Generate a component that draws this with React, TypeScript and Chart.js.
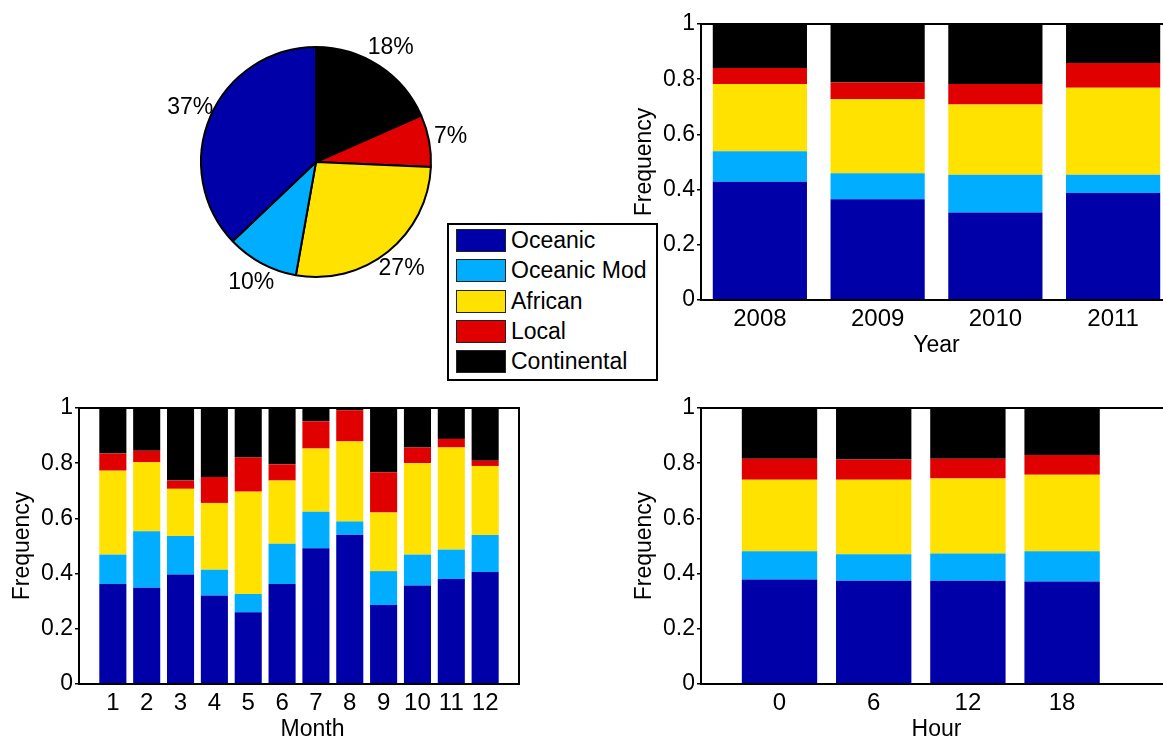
import React, { useEffect, useRef } from "react";
import { Chart, registerables } from "chart.js";
Chart.register(...registerables);

const FONT = "'Liberation Sans', Arial, Helvetica, sans-serif";
Chart.defaults.font.family = FONT;
Chart.defaults.font.size = 23;
Chart.defaults.color = "#000";

const sourceNames = ["Oceanic", "Oceanic Mod", "African", "Local", "Continental"];
const sourceColors = ["#0000A8", "#00ADFF", "#FFE200", "#E00000", "#000000"];

const pieShares = [37.1, 10.1, 27.1, 7.3, 18.4];

const years = ["2008", "2009", "2010", "2011"];
const yearOceanic = [0.428, 0.365, 0.317, 0.388];
const yearOceanicMod = [0.111, 0.094, 0.137, 0.066];
const yearAfrican = [0.244, 0.268, 0.254, 0.315];
const yearLocal = [0.058, 0.061, 0.075, 0.09];
const yearContinental = [0.159, 0.212, 0.217, 0.141];

const months = [1, 2, 3, 4, 5, 6, 7, 8, 9, 10, 11, 12];
const monthOceanic = [0.362, 0.349, 0.397, 0.321, 0.26, 0.362, 0.492, 0.541, 0.286, 0.357, 0.38, 0.406];
const monthOceanicMod = [0.107, 0.204, 0.139, 0.093, 0.066, 0.146, 0.132, 0.048, 0.123, 0.112, 0.107, 0.134];
const monthAfrican = [0.304, 0.25, 0.171, 0.242, 0.371, 0.229, 0.229, 0.29, 0.212, 0.331, 0.37, 0.25];
const monthLocal = [0.062, 0.042, 0.03, 0.094, 0.124, 0.059, 0.099, 0.113, 0.146, 0.057, 0.031, 0.019];
const monthContinental = [0.165, 0.155, 0.263, 0.25, 0.179, 0.204, 0.048, 0.008, 0.233, 0.143, 0.112, 0.191];

const hours = [0, 6, 12, 18];
const hourOceanic = [0.379, 0.374, 0.374, 0.371];
const hourOceanicMod = [0.102, 0.096, 0.099, 0.11];
const hourAfrican = [0.259, 0.27, 0.272, 0.277];
const hourLocal = [0.076, 0.073, 0.071, 0.072];
const hourContinental = [0.184, 0.187, 0.184, 0.17];

const yTicks = [0, 0.2, 0.4, 0.6, 0.8, 1];

const boxPlugin = {
  id: "plotBox",
  afterDatasetsDraw(chart: any) {
    const { ctx, chartArea } = chart;
    const { left, top, right, bottom } = chartArea;
    ctx.save();
    ctx.strokeStyle = "#000";
    ctx.lineWidth = 2;
    ctx.strokeRect(left, top, right - left, bottom - top);
    ctx.restore();
  },
};

const xTitlePlugin = {
  id: "xTitle",
  afterDraw(chart: any, _args: any, opts: any) {
    const { ctx, chartArea } = chart;
    ctx.save();
    ctx.font = `23px ${FONT}`;
    ctx.fillStyle = "#000";
    ctx.textAlign = "center";
    ctx.textBaseline = "alphabetic";
    ctx.fillText(opts.text, (chartArea.left + chartArea.right) / 2 + (opts.dx || 0), chartArea.bottom + opts.dy);
    ctx.restore();
  },
};

const pieLabelPlugin = {
  id: "pieLabels",
  afterDatasetsDraw(chart: any) {
    const { ctx } = chart;
    const meta = chart.getDatasetMeta(0);
    const values: number[] = chart.data.datasets[0].data;
    ctx.save();
    ctx.font = `23px ${FONT}`;
    ctx.fillStyle = "#000";
    ctx.textAlign = "center";
    ctx.textBaseline = "middle";
    meta.data.forEach((arc: any, i: number) => {
      const mid = (arc.startAngle + arc.endAngle) / 2;
      const r = arc.outerRadius * 1.19;
      ctx.fillText(Math.round(values[i]) + "%", arc.x + Math.cos(mid) * r, arc.y + Math.sin(mid) * r);
    });
    ctx.restore();
  },
};

function useChart(ref: React.RefObject<HTMLCanvasElement | null>, makeConfig: () => any) {
  useEffect(() => {
    if (!ref.current) return;
    const chart = new Chart(ref.current, makeConfig());
    return () => chart.destroy();
  }, []);
}

function PieChart() {
  const ref = useRef<HTMLCanvasElement>(null);
  useChart(ref, () => {
    // drawn clockwise from the top: reverse so that Oceanic runs counter-clockwise from the top
    const order = [4, 3, 2, 1, 0];
    return {
      type: "pie",
      data: {
        labels: order.map((i) => sourceNames[i]),
        datasets: [
          {
            data: order.map((i) => pieShares[i]),
            backgroundColor: order.map((i) => sourceColors[i]),
            borderColor: "#000",
            borderWidth: 2,
          },
        ],
      },
      options: {
        responsive: false,
        animation: false,
        layout: { padding: 64 },
        plugins: { legend: { display: false }, tooltip: { enabled: false } },
      },
      plugins: [pieLabelPlugin],
    };
  });
  return (
    <canvas
      ref={ref}
      width={360}
      height={360}
      style={{ position: "absolute", left: 136, top: -18, width: 360, height: 360 }}
    />
  );
}

function Legend() {
  return (
    <div
      style={{
        position: "absolute",
        left: 447,
        top: 223,
        width: 211,
        height: 158,
        boxSizing: "border-box",
        border: "2px solid #000",
        background: "#fff",
        fontFamily: FONT,
        fontSize: 23,
        color: "#000",
      }}
    >
      {sourceNames.map((name, i) => (
        <div
          key={name}
          style={{ position: "absolute", left: 7, top: 4 + i * 30.3, height: 23, display: "flex", alignItems: "center" }}
        >
          <div
            style={{
              width: 50,
              height: 23,
              flex: "0 0 auto",
              boxSizing: "border-box",
              background: sourceColors[i],
              border: "1.5px solid #222",
            }}
          />
          <span style={{ marginLeft: 5, lineHeight: "23px", whiteSpace: "nowrap" }}>{name}</span>
        </div>
      ))}
    </div>
  );
}

function yScale() {
  return {
    stacked: true,
    min: 0,
    max: 1,
    afterBuildTicks: (scale: any) => {
      scale.ticks = yTicks.map((v) => ({ value: v }));
    },
    afterFit: (scale: any) => {
      scale.width = 79;
    },
    grid: { drawOnChartArea: false, drawTicks: true, tickLength: 4, color: "#000", lineWidth: 1.5 },
    border: { display: false },
    ticks: {
      padding: 2,
      color: "#000",
      font: { size: 23, family: FONT },
      callback: (v: any) => String(Math.round(Number(v) * 10) / 10),
    },
    title: { display: true, text: "Frequency", padding: { top: 9, bottom: 0 }, font: { size: 23, family: FONT }, color: "#000" },
  };
}

function makeDatasets(series: number[][], xs: number[] | null) {
  return series.map((vals, i) => ({
    label: sourceNames[i],
    data: xs ? vals.map((v, j) => ({ x: xs[j], y: v })) : vals,
    backgroundColor: sourceColors[i],
    borderWidth: 0,
    barPercentage: 0.8,
    categoryPercentage: 1,
  }));
}

function baseOptions(xScale: any, title: string, dx: number) {
  return {
    responsive: false,
    animation: false,
    layout: { padding: { top: 24, right: 4, left: 0, bottom: 0 } },
    plugins: {
      legend: { display: false },
      tooltip: { enabled: false },
      xTitle: { text: title, dx, dy: 52 },
    },
    scales: { x: xScale, y: yScale() },
  };
}

const xTickFont = { size: 24, family: FONT };

function YearChart() {
  const ref = useRef<HTMLCanvasElement>(null);
  useChart(ref, () => ({
    type: "bar",
    data: {
      labels: years,
      datasets: makeDatasets([yearOceanic, yearOceanicMod, yearAfrican, yearLocal, yearContinental], null),
    },
    options: baseOptions(
      {
        type: "category",
        stacked: true,
        offset: true,
        afterFit: (scale: any) => {
          scale.height = 58;
        },
        grid: { display: false, drawTicks: false },
        border: { display: false },
        ticks: { padding: 5, color: "#000", maxRotation: 0, font: xTickFont },
        title: { display: false },
      },
      "Year",
      0
    ),
    plugins: [boxPlugin, xTitlePlugin],
  }));
  return (
    <canvas ref={ref} width={554} height={358} style={{ position: "absolute", left: 622, top: 0, width: 554, height: 358 }} />
  );
}

function linearX(xs: number[], min: number, max: number) {
  return {
    type: "linear",
    stacked: true,
    min,
    max,
    offset: false,
    afterBuildTicks: (scale: any) => {
      scale.ticks = xs.map((v) => ({ value: v }));
    },
    afterFit: (scale: any) => {
      scale.height = 58;
    },
    grid: { display: false, drawTicks: false },
    border: { display: false },
    ticks: { padding: 5, color: "#000", maxRotation: 0, autoSkip: false, font: xTickFont },
    title: { display: false },
  };
}

function MonthChart() {
  const ref = useRef<HTMLCanvasElement>(null);
  useChart(ref, () => ({
    type: "bar",
    data: {
      datasets: makeDatasets([monthOceanic, monthOceanicMod, monthAfrican, monthLocal, monthContinental], months),
    },
    options: baseOptions(linearX(months, 0, 13), "Month", 13.5),
    plugins: [boxPlugin, xTitlePlugin],
  }));
  return (
    <canvas ref={ref} width={523} height={358} style={{ position: "absolute", left: 0, top: 384, width: 523, height: 358 }} />
  );
}

function HourChart() {
  const ref = useRef<HTMLCanvasElement>(null);
  useChart(ref, () => ({
    type: "bar",
    data: {
      datasets: makeDatasets([hourOceanic, hourOceanicMod, hourAfrican, hourLocal, hourContinental], hours),
    },
    options: baseOptions(linearX(hours, -5, 25), "Hour", 0),
    plugins: [boxPlugin, xTitlePlugin],
  }));
  return (
    <canvas ref={ref} width={554} height={358} style={{ position: "absolute", left: 622, top: 384, width: 554, height: 358 }} />
  );
}

export default function App() {
  return (
    <div
      style={{
        position: "fixed",
        left: 0,
        top: 0,
        width: 1163,
        height: 740,
        overflow: "hidden",
        background: "#fff",
      }}
    >
      <PieChart />
      <YearChart />
      <MonthChart />
      <HourChart />
      <Legend />
    </div>
  );
}
